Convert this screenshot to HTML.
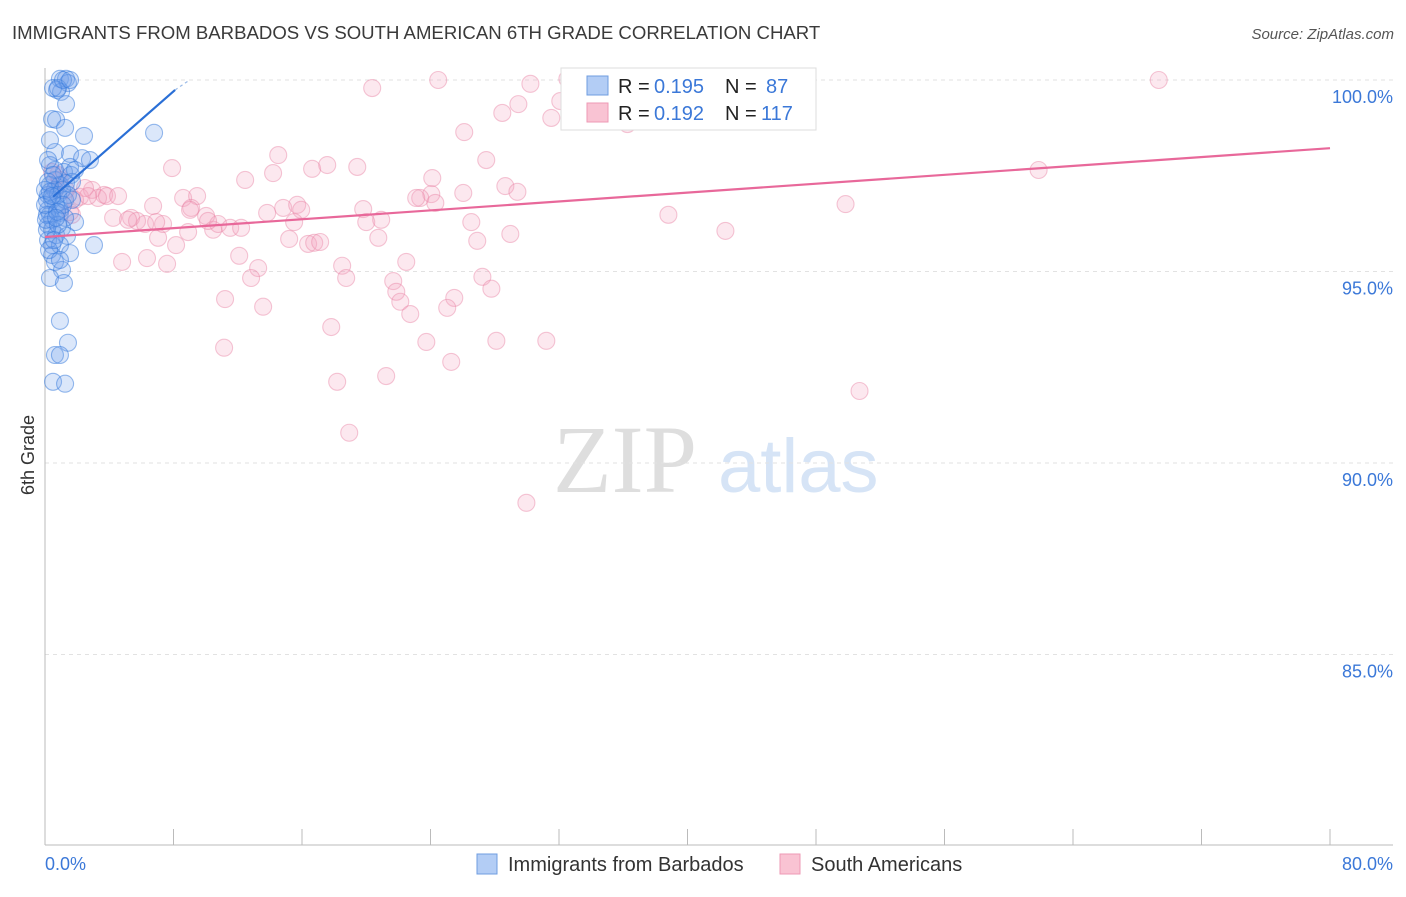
<!DOCTYPE html>
<html><head><meta charset="utf-8"><style>
body{margin:0;background:#fff;font-family:"Liberation Sans",sans-serif}
</style></head><body>
<svg width="1406" height="892" viewBox="0 0 1406 892" xmlns="http://www.w3.org/2000/svg" font-family="Liberation Sans, sans-serif">
<text x="12" y="39" font-size="18.6" fill="#3a3a3a">IMMIGRANTS FROM BARBADOS VS SOUTH AMERICAN 6TH GRADE CORRELATION CHART</text>
<text x="1394" y="39" font-size="15" fill="#555" font-style="italic" text-anchor="end">Source: ZipAtlas.com</text>
<text x="0" y="0" font-size="18" fill="#333" transform="translate(34,455) rotate(-90)" text-anchor="middle">6th Grade</text>
<g>
<text x="553" y="492" font-size="96" font-family="Liberation Serif, serif" fill="#dedede">ZIP</text>
<text x="718" y="492" font-size="76" fill="#d6e4f6">atlas</text>
</g>
<g id="grid"></g><g id="axes"></g><g id="pts"></g><g id="trend"></g>
<g>
<rect x="561" y="68" width="255" height="62" fill="#fff" stroke="#ddd"/>
<rect x="587" y="76" width="21" height="19" fill="#b3cdf5" stroke="#6f9de0"/>
<rect x="587" y="103" width="21" height="19" fill="#f9c3d3" stroke="#ee9ab5"/>
<text x="618" y="93" font-size="20" fill="#222">R =</text>
<text x="654" y="93" font-size="20" fill="#3b78d8">0.195</text>
<text x="725" y="93" font-size="20" fill="#222">N =</text>
<text x="766" y="93" font-size="20" fill="#3b78d8">87</text>
<text x="618" y="120" font-size="20" fill="#222">R =</text>
<text x="654" y="120" font-size="20" fill="#3b78d8">0.192</text>
<text x="725" y="120" font-size="20" fill="#222">N =</text>
<text x="761" y="120" font-size="20" fill="#3b78d8">117</text>
</g>
<g>
<rect x="477" y="854" width="20" height="20" fill="#b3cdf5" stroke="#6f9de0"/>
<text x="508" y="871" font-size="20" fill="#333">Immigrants from Barbados</text>
<rect x="780" y="854" width="20" height="20" fill="#f9c3d3" stroke="#ee9ab5"/>
<text x="811" y="871" font-size="20" fill="#333">South Americans</text>
</g>
</svg>
<script>
const yTicks=[100,95,90,85];
const xTickLabels=["0.0%","80.0%"];
const blueX=[0.93,1.31,1.43,0.75,1.00,1.31,0.44,0.69,1.25,2.43,6.79,0.62,1.56,2.31,2.80,1.56,0.31,0.62,1.18,1.62,0.31,0.62,0.93,1.31,1.68,0.19,0.44,0.69,0.93,0.19,0.31,0.44,0.93,1.25,1.87,0.19,0.44,0.69,1.06,1.37,0.19,0.44,0.93,1.56,3.05,0.44,0.62,1.06,0.31,1.18,0.93,1.43,0.62,0.93,0.50,1.25,0.50,0.81,1.12,1.56,0.31,0.62,0.19,0.12,0.12,0.12,0.25,0.81,1.06,0.50,0.0,0.06,0.0,1.43,1.68,1.87,0.93,1.25,0.81,0.56,0.31,0.75,1.12,0.19,0.44,0.69];
const blueY=[100.03,100.03,99.92,99.74,99.69,99.37,98.98,98.96,98.75,98.54,98.62,98.12,98.07,97.96,97.91,97.73,97.78,97.39,97.60,97.52,97.26,97.13,97.26,97.31,97.34,97.00,96.87,96.74,96.61,96.61,96.48,96.35,96.53,96.87,96.29,96.22,96.09,95.95,96.14,95.93,95.82,95.69,95.69,95.48,95.69,95.43,95.25,95.04,94.83,94.70,93.71,93.14,92.82,92.82,92.12,92.07,99.79,99.79,100.0,100.0,98.43,97.65,97.91,96.87,96.48,96.09,95.56,97.00,97.13,97.52,97.13,96.35,96.74,97.00,96.87,97.65,95.30,96.40,96.22,95.82,97.08,96.56,96.74,97.34,96.97,96.40];
const pinkX=[24.48,30.22,20.37,32.52,69.34,29.47,28.47,32.08,31.52,26.10,36.26,37.13,14.52,7.91,12.46,14.20,16.63,17.57,19.44,27.47,24.11,28.66,29.41,26.04,24.05,23.36,23.11,24.30,61.86,49.84,38.81,42.36,6.73,8.60,9.47,9.10,10.03,10.47,10.78,11.53,12.21,13.83,14.83,15.70,15.95,15.51,19.81,20.00,20.93,20.75,15.20,16.38,16.76,17.13,26.54,26.91,28.97,7.04,8.16,8.91,4.24,5.36,5.73,6.23,7.35,4.80,6.35,7.60,13.27,12.83,18.50,18.75,22.49,21.68,21.87,22.12,22.74,27.23,27.79,25.48,25.04,11.21,13.58,17.82,23.74,28.10,31.21,11.15,25.29,21.24,18.19,50.71,18.94,29.97,2.18,2.93,3.68,3.30,3.86,2.49,1.68,1.87,1.31,0.81,0.44,0.93,0.62,1.56,4.55,6.92,9.03,12.09,10.15,5.17,2.68];
const pinkY=[100.0,99.90,99.79,100.03,100.0,99.37,99.14,99.45,99.01,98.64,98.85,99.61,98.04,97.70,97.39,97.57,97.68,97.78,97.73,97.91,97.44,97.23,97.08,97.05,97.02,96.92,96.92,96.79,97.65,96.76,96.48,96.06,96.71,96.92,96.97,96.66,96.45,96.09,96.24,96.14,96.14,96.53,96.66,96.74,96.61,96.29,96.63,96.29,96.35,95.88,95.85,95.72,95.75,95.77,96.29,95.80,95.98,95.88,95.69,96.03,96.40,96.40,96.32,96.24,96.24,95.25,95.35,95.20,95.09,94.83,95.15,94.83,95.25,94.75,94.47,94.21,93.89,94.86,94.55,94.31,94.05,94.28,94.08,93.55,93.16,93.19,93.19,93.01,92.64,92.27,92.12,91.88,90.79,88.96,96.95,97.13,97.00,96.92,96.97,97.18,96.48,96.87,97.13,97.52,97.60,97.39,97.13,96.55,96.97,96.29,96.61,95.41,96.32,96.35,96.97];
const blueTrend=[[0.5,96.95],[8.1,99.74]];
const blueTrendDash=[[8.1,99.74],[9.0,100.0]];
const pinkTrend=[[0,95.90],[80,98.22]];

const NS="http://www.w3.org/2000/svg";
const X0=45,X1=1330,Y100=80,PXPCT=38.3;
const sx=v=>X0+(v/80)*(X1-X0);
const sy=v=>Y100+(100-v)*PXPCT;
function mk(tag,attrs,parent){const e=document.createElementNS(NS,tag);for(const k in attrs)e.setAttribute(k,attrs[k]);document.getElementById(parent).appendChild(e);return e;}

yTicks.forEach(t=>{
  const l=mk('line',{x1:45,x2:1393,y1:sy(t),y2:sy(t),stroke:'#e2e2e2','stroke-dasharray':'4,4'},'grid');
  
  
  const tx=mk('text',{x:1393,y:sy(t)+23,'font-size':18,fill:'#3b78d8','text-anchor':'end'},'grid');
  tx.textContent=t.toFixed(1)+'%';
  
  
});
const ya=mk('line',{x1:45,x2:45,y1:68,y2:845,stroke:'#bbb'},'axes');


const xa=mk('line',{x1:45,x2:1393,y1:845,y2:845,stroke:'#bbb'},'axes');


for(let i=0;i<=10;i++){
  const t=mk('line',{x1:sx(i*8),x2:sx(i*8),y1:829,y2:845,stroke:'#bbb'},'axes');
  
  
}
[[0,'start',45],[80,'end',1393]].forEach((d,i)=>{
  const t=mk('text',{x:d[2],y:870,'font-size':18,fill:'#3b78d8','text-anchor':d[1]},'axes');
  t.textContent=xTickLabels[i];
  
  
});
pinkX.forEach((x,i)=>{
  const c=mk('circle',{cx:sx(x),cy:sy(pinkY[i]),r:8.5,fill:'rgba(244,165,192,0.25)',stroke:'rgba(232,130,165,0.45)','stroke-width':1.1},'pts');
  
  
});
blueX.forEach((x,i)=>{
  const c=mk('circle',{cx:sx(x),cy:sy(blueY[i]),r:8.5,fill:'rgba(110,160,235,0.25)',stroke:'rgba(50,120,220,0.5)','stroke-width':1.1},'pts');
  
  
});
const pt=mk('line',{x1:sx(pinkTrend[0][0]),y1:sy(pinkTrend[0][1]),x2:sx(pinkTrend[1][0]),y2:sy(pinkTrend[1][1]),stroke:'#e8689a','stroke-width':2.2},'trend');


const bt=mk('line',{x1:sx(blueTrend[0][0]),y1:sy(blueTrend[0][1]),x2:sx(blueTrend[1][0]),y2:sy(blueTrend[1][1]),stroke:'#2a6fd6','stroke-width':2.2},'trend');


const bd=mk('line',{x1:sx(blueTrendDash[0][0]),y1:sy(blueTrendDash[0][1]),x2:sx(blueTrendDash[1][0]),y2:sy(blueTrendDash[1][1]),stroke:'#9bbbe8','stroke-width':1.2,'stroke-dasharray':'3,3'},'trend');


</script>
</body></html>
